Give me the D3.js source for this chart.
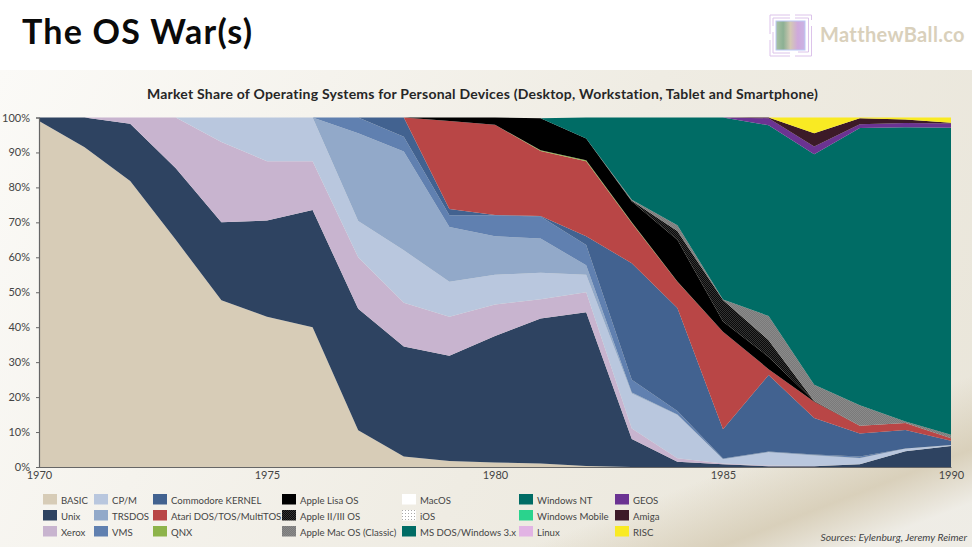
<!DOCTYPE html>
<html>
<head>
<meta charset="utf-8">
<script src="https://cdn.jsdelivr.net/npm/d3@7"></script>
<style>
  html, body { margin: 0; padding: 0; background: #fff; }
  svg { display: block; }
  text { font-family: Lato, "Open Sans", sans-serif; }
</style>
</head>
<body>
<script>
// values, share of each OS per year (percent)
var years = [1970, 1971, 1972, 1973, 1974, 1975, 1976, 1977, 1978, 1979, 1980, 1981, 1982, 1983, 1984, 1985, 1986, 1987, 1988, 1989, 1990];
var xTicks = [1970, 1975, 1980, 1985, 1990];
var yTicks = [0, 10, 20, 30, 40, 50, 60, 70, 80, 90, 100];

var basic      = [99, 91.5, 81.8, 65, 47.7, 43, 40, 10.5, 3, 1.7, 1.3, 1, 0.3, 0, 0, 0, 0, 0, 0, 0, 0];
var unix       = [1, 8.5, 16.4, 20.5, 22.3, 27.5, 33.5, 34.8, 31.5, 30.1, 36.2, 41.5, 44, 8, 1.5, 0.8, 0.2, 0.2, 0.8, 4.5, 6];
var xerox      = [0, 0, 1.8, 14.5, 23, 17, 14, 14.7, 12.5, 11.2, 9, 5.5, 5.7, 3, 1, 0.2, 0.2, 0.1, 0, 0, 0];
var cpm        = [0, 0, 0, 0, 7, 12.5, 12.5, 10.4, 15, 10, 8.5, 7.6, 5, 10, 12.4, 1.2, 3.8, 3, 1.7, 0.8, 0.3];
var trsdos     = [0, 0, 0, 0, 0, 0, 0, 25.1, 28.3, 15.7, 11, 9.8, 2.7, 0.3, 0.1, 0.1, 0.1, 0.1, 0.1, 0, 0];
var vms        = [0, 0, 0, 0, 0, 0, 0, 4.5, 4.2, 3.3, 6, 6.3, 5.8, 3.7, 1, 0.1, 0.1, 0.2, 0.4, 0, 0];
var commodore  = [0, 0, 0, 0, 0, 0, 0, 0, 5.5, 1.8, 0.1, 0.1, 2.5, 33.3, 29.5, 8.4, 21.9, 10.4, 6.6, 5.3, 1.2];
var atari      = [0, 0, 0, 0, 0, 0, 0, 0, 0, 25.2, 25.8, 18.6, 21.5, 11.5, 7.5, 27.9, 1.7, 4.7, 2.2, 2, 0.7];
var qnx        = [0, 0, 0, 0, 0, 0, 0, 0, 0, 0, 0, 0.2, 0.3, 0.2, 0.1, 0, 0, 0, 0, 0, 0];
var lisa       = [0, 0, 0, 0, 0, 0, 0, 0, 0, 1, 2.1, 9.2, 6.2, 6, 11.9, 2.9, 3.5, 0.1, 0, 0, 0];
var appleII    = [0, 0, 0, 0, 0, 0, 0, 0, 0, 0, 0, 0, 0, 0.2, 2.5, 6.2, 4.8, 0.1, 0, 0, 0];
var macClassic = [0, 0, 0, 0, 0, 0, 0, 0, 0, 0, 0, 0, 0, 0.3, 1.7, 0.1, 6.9, 4.6, 5.9, 0.4, 1];
var macOS      = [0, 0, 0, 0, 0, 0, 0, 0, 0, 0, 0, 0, 0, 0, 0, 0, 0, 0, 0, 0, 0];
var iOS        = [0, 0, 0, 0, 0, 0, 0, 0, 0, 0, 0, 0, 0, 0, 0, 0, 0, 0, 0, 0, 0];
var msDos      = [0, 0, 0, 0, 0, 0, 0, 0, 0, 0, 0, 0, 6, 23.5, 30.8, 52.1, 54.6, 66, 79.3, 84.2, 87.9];
var windowsNT  = [0, 0, 0, 0, 0, 0, 0, 0, 0, 0, 0, 0, 0, 0, 0, 0, 0, 0, 0, 0, 0];
var winMobile  = [0, 0, 0, 0, 0, 0, 0, 0, 0, 0, 0, 0, 0, 0, 0, 0, 0, 0, 0, 0, 0];
var linux      = [0, 0, 0, 0, 0, 0, 0, 0, 0, 0, 0, 0, 0, 0, 0, 0, 0, 0, 0, 0, 0];
var geos       = [0, 0, 0, 0, 0, 0, 0, 0, 0, 0, 0, 0, 0, 0, 0, 0, 2, 2.2, 1.1, 1.2, 1.2];
var amiga      = [0, 0, 0, 0, 0, 0, 0, 0, 0, 0, 0, 0, 0, 0, 0, 0, 0.2, 3.8, 1.7, 1, 0.2];
var risc       = [0, 0, 0, 0, 0, 0, 0, 0, 0, 0, 0, 0, 0, 0, 0, 0, 0, 4.5, 0.2, 0.6, 1.5];

// stack order is also legend order, three to a column
var osNames = ['BASIC', 'Unix', 'Xerox', 'CP/M', 'TRSDOS', 'VMS', 'Commodore KERNEL', 'Atari DOS/TOS/MultiTOS', 'QNX',
  'Apple Lisa OS', 'Apple II/III OS', 'Apple Mac OS (Classic)', 'MacOS', 'iOS', 'MS DOS/Windows 3.x',
  'Windows NT', 'Windows Mobile', 'Linux', 'GEOS', 'Amiga', 'RISC'];
var osValues = [basic, unix, xerox, cpm, trsdos, vms, commodore, atari, qnx,
  lisa, appleII, macClassic, macOS, iOS, msDos,
  windowsNT, winMobile, linux, geos, amiga, risc];
var osColors = ['#d7ccb7', '#2e4361', '#c8b4cf', '#b9c7de', '#92a9c9', '#6080b0', '#426290', '#b94646', '#8db34a',
  '#000000', 'url(#dotsDark)', 'url(#dotsGrey)', '#ffffff', 'url(#dotsWhite)', '#006c65',
  '#006c65', '#2ad38d', '#e2b4e4', '#6b3392', '#3c1a28', '#f9ea23'];

var legendColumnX = [43, 94, 153, 282, 402, 519, 615];
var legendRowY = [494, 510, 526];

var options = {
  width: 972,
  height: 547,
  left: 39,
  right: 951,
  top: 117.5,
  bottom: 467
};

var svg = d3.select('body').append('svg')
  .attr('width', options.width)
  .attr('height', options.height);

var defs = svg.append('defs');

var panelGradient = defs.append('linearGradient')
  .attr('id', 'panel')
  .attr('gradientUnits', 'userSpaceOnUse')
  .attr('x1', 0).attr('y1', 70)
  .attr('x2', 972).attr('y2', 547);
panelGradient.append('stop').attr('offset', '0%').attr('stop-color', '#fbfaf7');
panelGradient.append('stop').attr('offset', '55%').attr('stop-color', '#efece3');
panelGradient.append('stop').attr('offset', '100%').attr('stop-color', '#e9e5d9');

// darker diagonal band in the lower right corner
var bandGradient = defs.append('linearGradient')
  .attr('id', 'band')
  .attr('gradientUnits', 'userSpaceOnUse')
  .attr('x1', 825).attr('y1', 432)
  .attr('x2', 868).attr('y2', 543);
bandGradient.append('stop').attr('offset', '0%').attr('stop-color', '#d6ccb5').attr('stop-opacity', 0);
bandGradient.append('stop').attr('offset', '58%').attr('stop-color', '#d6ccb5').attr('stop-opacity', 0.85);
bandGradient.append('stop').attr('offset', '100%').attr('stop-color', '#efede7').attr('stop-opacity', 0.9);

var logoGradient = defs.append('linearGradient').attr('id', 'logoFill');
['#a9c2a6', '#8cb093', '#d4c9b4', '#cfa9dc', '#c9b4e4'].forEach(function(c, i) {
  logoGradient.append('stop').attr('offset', (i * 25) + '%').attr('stop-color', c);
});

// dithered fills for the Apple series
var makeDots = function(id, back, dot) {
  var p = defs.append('pattern')
    .attr('id', id)
    .attr('width', 2).attr('height', 2)
    .attr('patternUnits', 'userSpaceOnUse');
  p.append('rect').attr('width', 2).attr('height', 2).attr('fill', back);
  p.append('rect').attr('width', 1).attr('height', 1).attr('fill', dot);
  p.append('rect').attr('x', 1).attr('y', 1).attr('width', 1).attr('height', 1).attr('fill', dot);
};
makeDots('dotsDark', '#0a0a0a', '#333333');
makeDots('dotsGrey', '#7a7a7a', '#8a8a8a');

var whiteDots = defs.append('pattern')
  .attr('id', 'dotsWhite')
  .attr('width', 3).attr('height', 3)
  .attr('patternUnits', 'userSpaceOnUse');
whiteDots.append('rect').attr('width', 3).attr('height', 3).attr('fill', '#ffffff');
whiteDots.append('rect').attr('width', 1).attr('height', 1).attr('fill', '#a8a8a8');

// page background
svg.append('rect').attr('width', options.width).attr('height', options.height).attr('fill', '#ffffff');
svg.append('rect').attr('y', 70).attr('width', options.width).attr('height', options.height - 70).attr('fill', 'url(#panel)');
svg.append('rect').attr('y', 70).attr('width', options.width).attr('height', options.height - 70).attr('fill', 'url(#band)');

// header
svg.append('text')
  .attr('x', 22).attr('y', 44)
  .attr('font-size', 34)
  .attr('font-weight', 700)
  .attr('letter-spacing', 1.2)
  .attr('fill', '#0a0a0a')
  .text('The OS War(s)');

svg.append('text')
  .attr('x', 482.5).attr('y', 99)
  .attr('text-anchor', 'middle')
  .attr('font-size', 14)
  .attr('font-weight', 700)
  .attr('letter-spacing', 0.22)
  .attr('fill', '#262626')
  .text('Market Share of Operating Systems for Personal Devices (Desktop, Workstation, Tablet and Smartphone)');

// logo
var logo = svg.append('g');
logo.append('rect')
  .attr('x', 776).attr('y', 21).attr('width', 29).attr('height', 29)
  .attr('fill', 'url(#logoFill)')
  .attr('stroke', '#bcc8f5').attr('stroke-width', 1);
logo.append('path')
  .attr('d', 'M770 34V15H790M795 15H811.5V20M811.5 26V56H795M790 56H770V40M773 26V18H790M795 18H808.5V52H798M790 53H773V32')
  .attr('fill', 'none')
  .attr('stroke', '#dcc3ea')
  .attr('stroke-width', 1);
logo.append('text')
  .attr('x', 820).attr('y', 42)
  .attr('font-size', 20)
  .attr('font-weight', 700)
  .attr('letter-spacing', 0.35)
  .attr('fill', '#d9d0bb')
  .text('MatthewBall.co');

// scales
var x = d3.scaleLinear().domain([1970, 1990]).range([options.left, options.right]);
var y = d3.scaleLinear().domain([0, 100]).range([options.bottom, options.top]);

var rows = years.map(function(year, i) {
  var row = { year: year };
  osNames.forEach(function(name, j) {
    row[name] = osValues[j][i];
  });
  return row;
});

var stacked = d3.stack().keys(osNames)(rows);

var area = d3.area()
  .x(function(d) { return x(d.data.year); })
  .y0(function(d) { return y(d[0]); })
  .y1(function(d) { return y(Math.min(d[1], 100)); });

svg.append('g').selectAll('path')
  .data(stacked)
  .enter()
  .append('path')
  .attr('d', area)
  .attr('fill', function(d, i) { return osColors[i]; });

// axes
var yAxis = d3.axisLeft(y)
  .tickValues(yTicks)
  .tickSize(3)
  .tickPadding(6)
  .tickFormat(function(d) { return d + '%'; });

var xAxis = d3.axisBottom(x)
  .tickValues(xTicks)
  .tickSize(0)
  .tickPadding(4)
  .tickFormat(d3.format('d'));

var yG = svg.append('g')
  .attr('transform', 'translate(' + options.left + ',0)')
  .call(yAxis);

var xG = svg.append('g')
  .attr('transform', 'translate(0,' + options.bottom + ')')
  .call(xAxis);

[yG, xG].forEach(function(g) {
  g.select('.domain').attr('stroke', '#666666').attr('stroke-width', 1.2);
  g.selectAll('.tick line').attr('stroke', '#666666');
  g.selectAll('text')
    .attr('fill', '#444444')
    .attr('font-size', 11)
    .style('font-family', 'Lato, "Open Sans", sans-serif');
});

// legend
var legend = svg.append('g').selectAll('g')
  .data(osNames)
  .enter()
  .append('g')
  .attr('transform', function(d, i) {
    return 'translate(' + legendColumnX[Math.floor(i / 3)] + ',' + legendRowY[i % 3] + ')';
  });

legend.append('rect')
  .attr('width', 14)
  .attr('height', 10.5)
  .attr('fill', function(d, i) { return osColors[i]; });

legend.append('text')
  .attr('x', 18)
  .attr('y', 9.5)
  .attr('font-size', 9.6)
  .attr('fill', '#444444')
  .text(function(d) { return d; });

svg.append('text')
  .attr('x', 967).attr('y', 541)
  .attr('text-anchor', 'end')
  .attr('font-size', 10.3)
  .attr('font-style', 'italic')
  .attr('fill', '#444444')
  .text('Sources: Eylenburg, Jeremy Reimer');
</script>
</body>
</html>
